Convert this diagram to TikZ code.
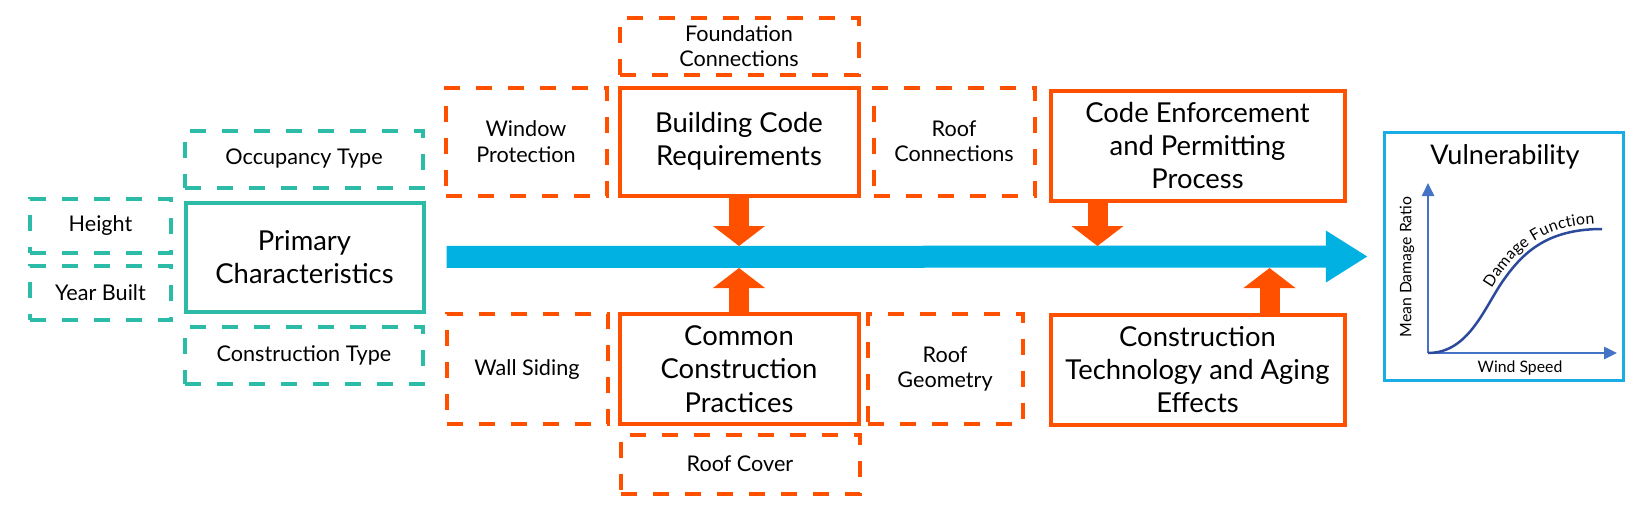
\documentclass[tikz,border=0pt]{standalone}
\usepackage{fontspec}
\setmainfont{Lato}
\usetikzlibrary{arrows.meta,decorations.text}
\definecolor{tealc}{HTML}{2BBBA7}
\definecolor{orangec}{HTML}{FF5000}
\definecolor{barblue}{HTML}{00B1E1}
\definecolor{vulnblue}{HTML}{1AACE4}
\definecolor{axisblue}{HTML}{4472C4}
\definecolor{curveblue}{HTML}{2B4A9B}
\begin{document}
\begin{tikzpicture}[x=0.2mm,y=-0.2mm,
    wh/.style 2 args={minimum width=#1*0.2mm,minimum height=#2*0.2mm},
    mainbox/.style={draw,line width=0.8mm,align=center,inner sep=0pt,font=\fontsize{15.6}{19}\selectfont},
    subbox/.style={draw,line width=0.8mm,dash pattern=on 3.2mm off 3.2mm,align=center,inner sep=0pt,font=\fontsize{12.3}{14.4}\selectfont},
    push/.style={orangec,line width=4mm,-{Triangle[width=10.2mm,length=4mm]}},
    axisline/.style={axisblue,line width=0.5mm,-{Triangle[width=2.4mm,length=2.6mm]}},
    small/.style={font=\fontsize{9}{11}\selectfont}]
    \useasboundingbox (0,0) rectangle (1646,511);

    % Primary characteristics
    \node [mainbox,tealc,text=black,wh={238}{109}] (prim) at (304.5,257) {Primary\\Characteristics};
    \node [subbox,tealc,text=black,wh={238}{57}] (occ) at (304,159) {Occupancy Type};
    \node [subbox,tealc,text=black,wh={238}{57}] (ctype) at (304,355.5) {Construction Type};
    \node [subbox,tealc,text=black,wh={141}{54}] (height) at (100.5,225.5) {Height};
    \node [subbox,tealc,text=black,wh={141}{54}] (year) at (100.5,293) {Year Built};

    % Building code
    \node [mainbox,orangec,text=black,wh={239}{108}] (bcode) at (739,141.5) {Building Code\\Requirements};
    \node [subbox,orangec,text=black,wh={239}{57}] (found) at (739,46) {Foundation\\Connections};
    \node [subbox,orangec,text=black,wh={161}{108}] (window) at (526,141.5) {Window\\Protection};
    \node [subbox,orangec,text=black,wh={161}{108}] (roofconn) at (954,141.5) {Roof\\Connections};

    % Construction practices
    \node [mainbox,orangec,text=black,wh={239}{110}] (common) at (739,369) {Common\\Construction\\Practices};
    \node [subbox,orangec,text=black,wh={239}{59}] (roofcov) at (740,464) {Roof Cover};
    \node [subbox,orangec,text=black,wh={161}{110}] (wall) at (527,369) {Wall Siding};
    \node [subbox,orangec,text=black,wh={155}{110}] (roofgeo) at (945,369) {Roof\\Geometry};

    % Enforcement and aging
    \node [mainbox,orangec,text=black,wh={294}{110}] (codeenf) at (1197.5,145.5) {Code Enforcement\\and Permitting\\Process};
    \node [mainbox,orangec,text=black,wh={294}{110}] (constech) at (1197.5,369.5) {Construction\\Technology and Aging\\Effects};

    % Vulnerability
    \node [draw=vulnblue,line width=0.7mm,wh={239}{248}] (vuln) at (1504,256.5) {};
    \node [font=\fontsize{15.4}{18.5}\selectfont] (vtitle) at (1505,157) {Vulnerability};

    % Main flow
    \coordinate (bartop) at (0,246);
    \coordinate (barbot) at (0,268);
    \draw [barblue,line width=4.4mm,-{Triangle[width=9.8mm,length=8.4mm]},shorten <=4.2mm,shorten >=3mm] (prim.east) -- (vuln.west);

    \draw [push] (bcode.south) -- (bcode.south |- bartop);
    \draw [push] ([xshift=-20mm]codeenf.south) -- ([xshift=-20mm]codeenf.south |- bartop);
    \draw [push] (common.north) -- (common.north |- barbot);
    \draw [push] ([xshift=14.4mm]constech.north) -- ([xshift=14.4mm]constech.north |- barbot);

    % Damage curve
    \coordinate (org) at (1428,353);
    \coordinate (ytop) at (1428,183);
    \coordinate (xend) at (1617,353);
    \draw [axisline] (org) -- (ytop);
    \draw [axisline] (org) -- (xend);
    \draw [curveblue,line width=0.5mm] (org) .. controls (1470,353) and (1485,305) .. (1505,278)
        .. controls (1525,250) and (1550,229) .. (1602,229);
    \path [decorate,decoration={text along path,raise=1.1mm,text align={right,right indent=1.4mm},
        text={|\fontsize{9}{11}\selectfont|Damage Function}}]
        (org) .. controls (1470,353) and (1485,305) .. (1505,278)
        .. controls (1525,250) and (1550,229) .. (1602,229);
    \node [small,rotate=90] (ylab) at (1407,267) {Mean Damage Ratio};
    \node [small] (xlab) at (1520,368) {Wind Speed};
\end{tikzpicture}
\end{document}
